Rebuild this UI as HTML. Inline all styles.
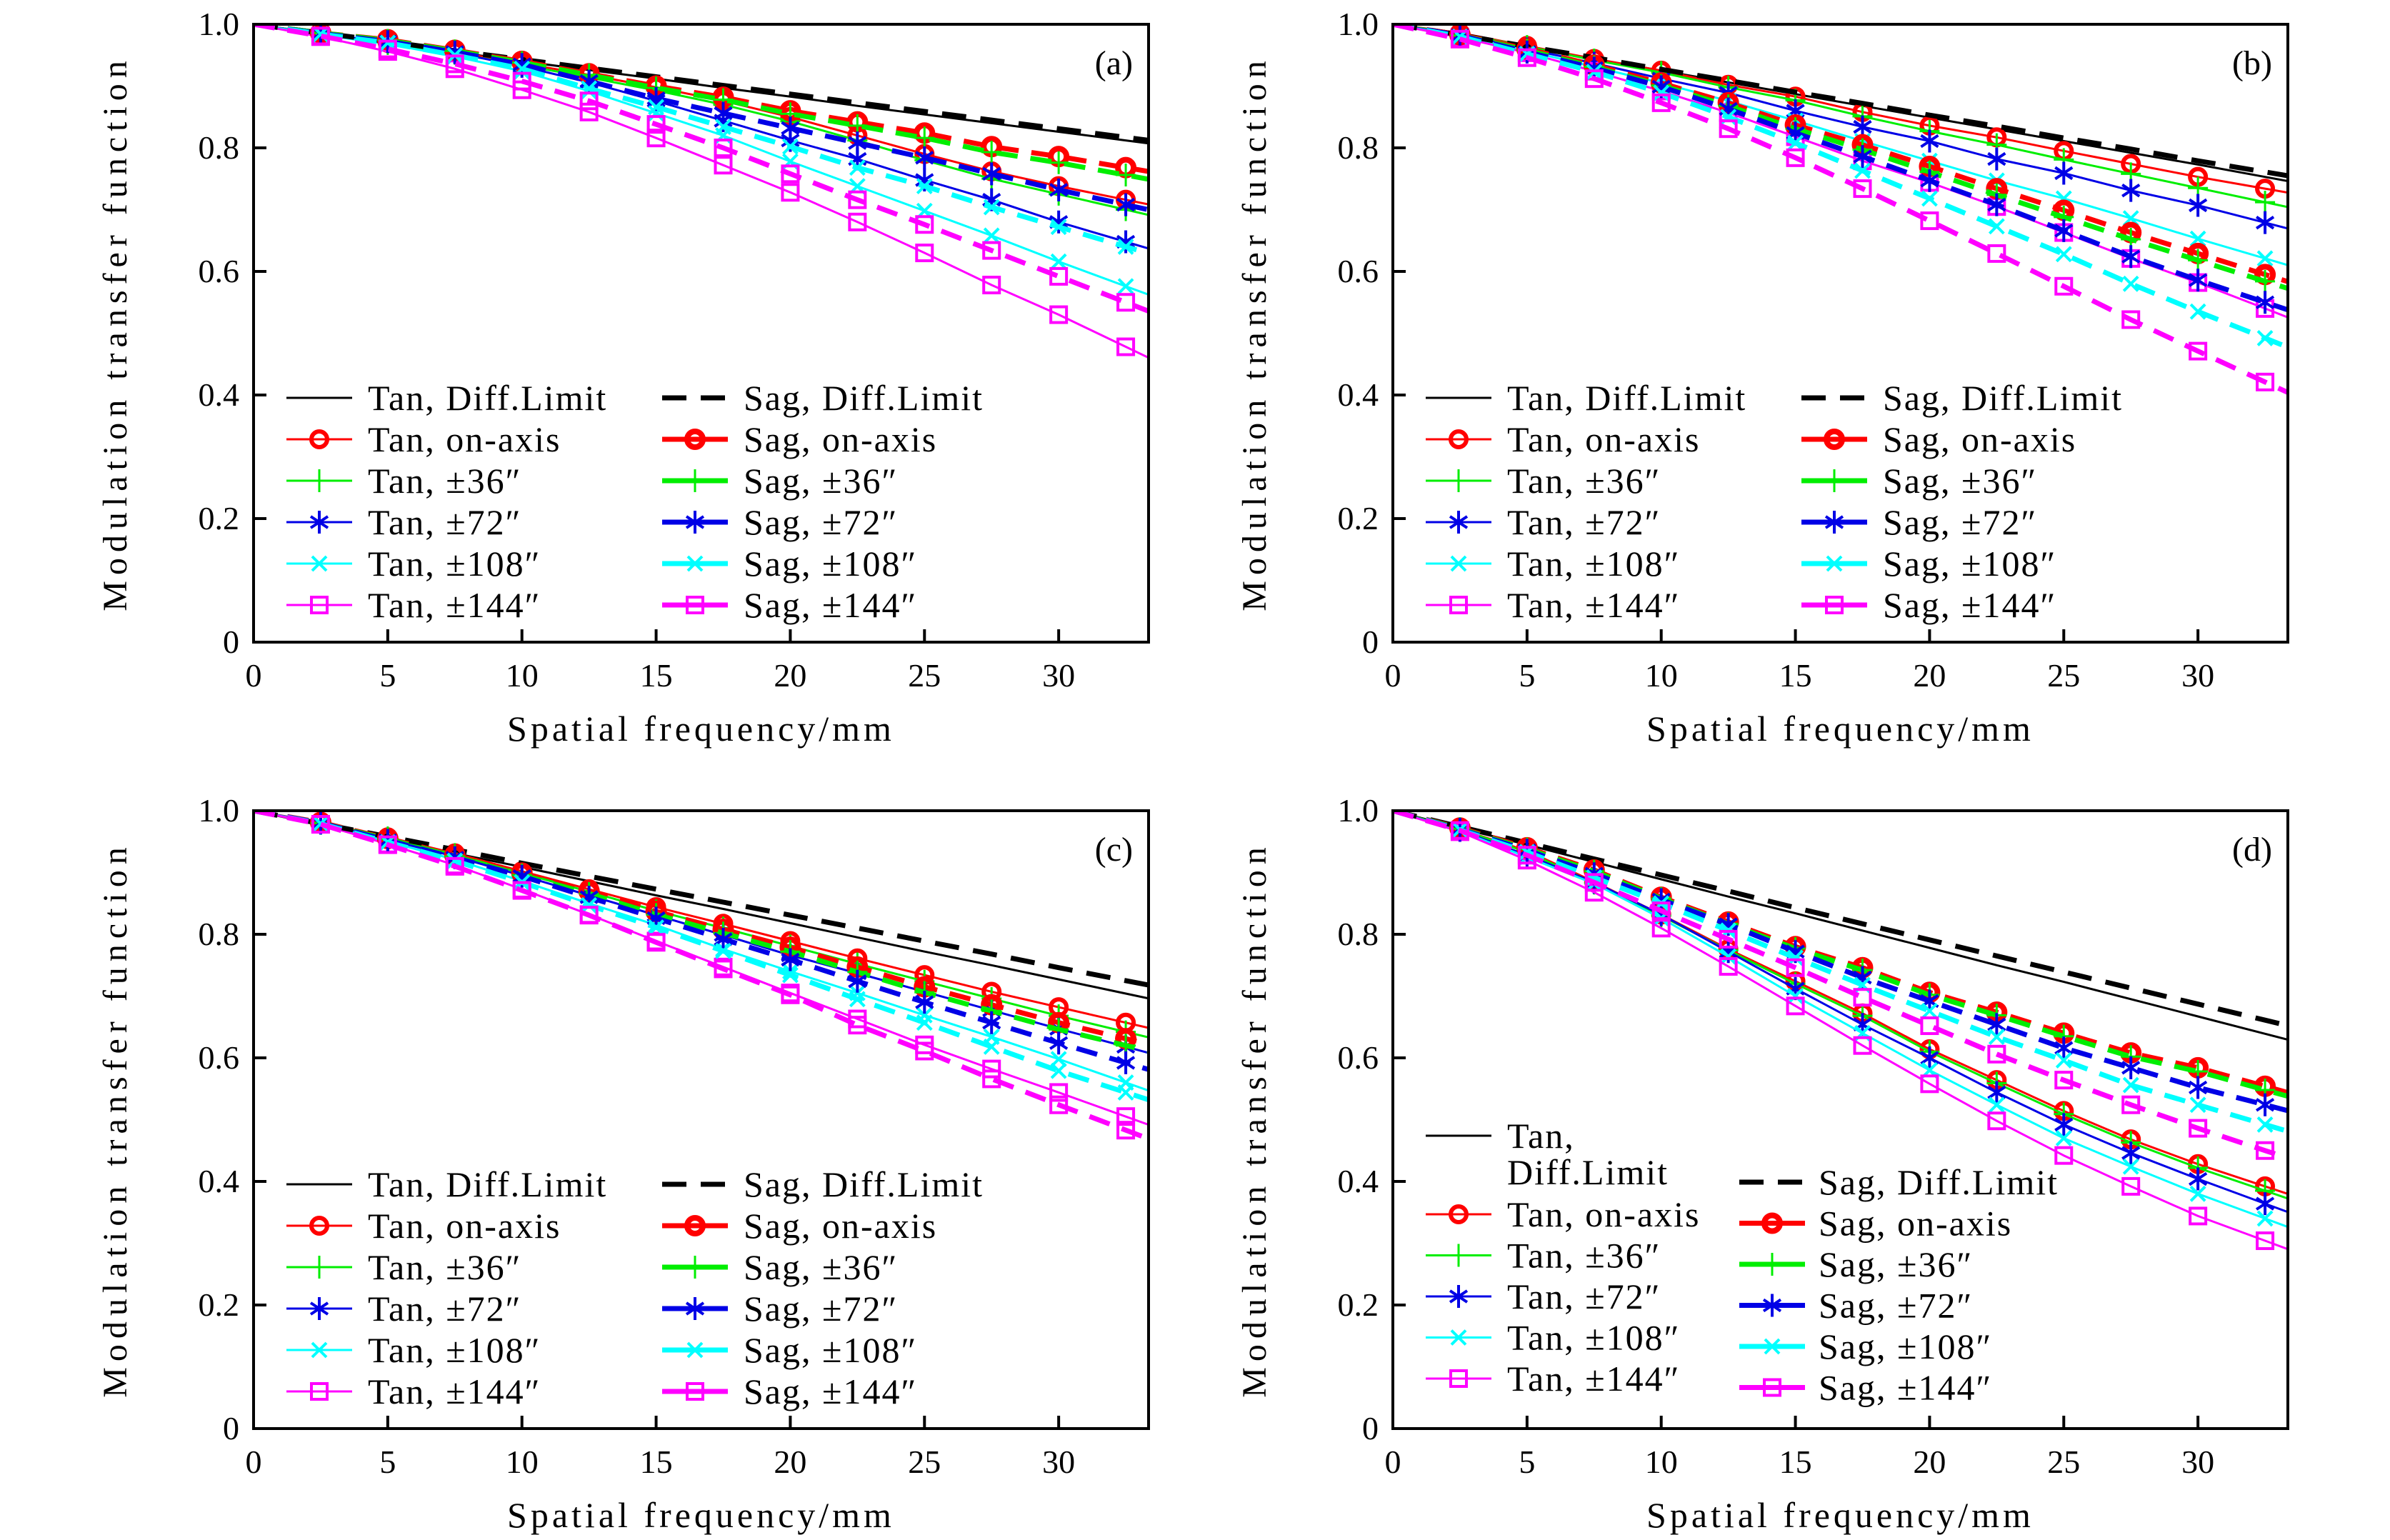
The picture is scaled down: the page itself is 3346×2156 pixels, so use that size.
<!DOCTYPE html>
<html><head><meta charset="utf-8"><style>
html,body{margin:0;padding:0;background:#fff;}
svg{display:block;}
text{font-family:"Liberation Serif",serif;fill:#000;}
</style></head><body>
<svg id="fig" xmlns="http://www.w3.org/2000/svg" width="3346" height="2156" viewBox="0 0 3346 2156"></svg>
<script>
const xs=[0,2.5,5,7.5,10,12.5,15,17.5,20,22.5,25,27.5,30,32.5];
const xTicks=[0,5,10,15,20,25,30];
const yTicks=[0,0.2,0.4,0.6,0.8,1.0];
const yTickLabels=["0","0.2","0.4","0.6","0.8","1.0"];
const panelLabels=["(a)","(b)","(c)","(d)"];
// panel a
const aTanDL=[1,.985,.97,.955,.94,.926,.912,.897,.883,.868,.854,.84,.826,.812];
const aSagDL=[1,.986,.972,.957,.943,.929,.915,.901,.887,.873,.859,.845,.831,.817];
const aTan0=[1,.985,.97,.955,.937,.918,.898,.876,.85,.82,.79,.762,.738,.716];
const aSag0=[1,.986,.975,.958,.94,.92,.90,.882,.86,.842,.824,.802,.786,.768];
const aTan36=[1,.985,.969,.953,.934,.914,.893,.87,.843,.812,.78,.75,.725,.70];
const aSag36=[1,.986,.974,.957,.938,.918,.897,.878,.855,.836,.816,.793,.776,.756];
const aTan72=[1,.984,.972,.954,.932,.906,.876,.844,.812,.782,.748,.716,.68,.648];
const aSag72=[1,.985,.972,.955,.935,.908,.88,.856,.832,.808,.784,.758,.732,.708];
const aTan108=[1,.983,.968,.948,.924,.892,.856,.82,.778,.738,.698,.658,.616,.576];
const aSag108=[1,.984,.97,.95,.928,.896,.866,.834,.802,.768,.738,.704,.672,.64];
const aTan144=[1,.98,.956,.928,.894,.858,.816,.772,.728,.68,.63,.578,.53,.478];
const aSag144=[1,.981,.96,.936,.908,.876,.838,.80,.758,.716,.676,.634,.592,.55];
// panel b
const bTanDL=[1,.982,.963,.944,.925,.906,.887,.868,.849,.83,.811,.792,.773,.753];
const bSagDL=[1,.983,.964,.946,.927,.909,.89,.872,.853,.835,.816,.798,.779,.761];
const bTan0=[1,.986,.965,.944,.925,.902,.883,.858,.836,.817,.795,.774,.753,.734];
const bTan36=[1,.985,.964,.942,.922,.898,.877,.851,.827,.805,.781,.758,.735,.712];
const bTan72=[1,.983,.96,.937,.912,.889,.86,.834,.811,.782,.759,.731,.707,.679];
const bTan108=[1,.981,.957,.931,.905,.876,.844,.811,.779,.747,.718,.686,.653,.621];
const bTan144=[1,.979,.954,.924,.892,.857,.818,.779,.744,.705,.663,.621,.582,.54];
const bSag0=[1,.983,.96,.934,.905,.873,.837,.805,.77,.734,.699,.663,.629,.595];
const bSag36=[1,.982,.958,.931,.901,.868,.831,.797,.761,.724,.688,.652,.618,.584];
const bSag72=[1,.982,.955,.929,.899,.863,.824,.786,.747,.708,.666,.624,.586,.55];
const bSag108=[1,.98,.952,.923,.889,.85,.808,.763,.718,.673,.628,.58,.535,.492];
const bSag144=[1,.976,.946,.912,.873,.831,.784,.734,.682,.629,.576,.522,.471,.421];
// panel c
const cTanDL=[1,.977,.954,.931,.909,.886,.863,.841,.818,.795,.772,.75,.727,.704];
const cSagDL=[1,.979,.958,.937,.915,.894,.873,.852,.831,.81,.789,.768,.746,.725];
const cTan0=[1,.981,.957,.931,.902,.873,.844,.817,.789,.761,.734,.707,.682,.657];
const cTan36=[1,.98,.956,.929,.899,.869,.838,.81,.781,.752,.724,.696,.668,.642];
const cSag0=[1,.981,.955,.928,.899,.87,.837,.808,.779,.747,.715,.686,.657,.631];
const cSag36=[1,.98,.954,.926,.896,.866,.832,.802,.772,.739,.706,.676,.646,.62];
const cTan72=[1,.98,.953,.926,.895,.863,.831,.799,.766,.737,.707,.677,.647,.618];
const cSag72=[1,.98,.952,.924,.894,.86,.826,.792,.759,.724,.69,.657,.624,.592];
const cTan108=[1,.979,.95,.921,.886,.85,.815,.776,.74,.705,.669,.634,.598,.56];
const cSag108=[1,.979,.949,.919,.884,.847,.811,.773,.734,.695,.657,.618,.579,.544];
const cTan144=[1,.978,.946,.912,.873,.832,.789,.747,.705,.663,.621,.582,.544,.505];
const cSag144=[1,.978,.945,.91,.871,.831,.787,.744,.702,.653,.611,.566,.524,.483];
// panel d
const dTanDL=[1,.972,.945,.917,.889,.861,.834,.806,.778,.75,.723,.695,.667,.639];
const dSagDL=[1,.974,.948,.922,.896,.87,.843,.817,.791,.765,.739,.713,.687,.661];
const dTan0=[1,.97,.935,.885,.832,.776,.724,.672,.614,.564,.514,.468,.428,.392];
const dTan36=[1,.97,.933,.883,.83,.774,.72,.668,.61,.559,.509,.463,.422,.385];
const dTan72=[1,.968,.928,.884,.832,.772,.712,.654,.6,.544,.492,.446,.404,.364];
const dTan108=[1,.967,.925,.882,.826,.764,.70,.64,.58,.524,.47,.424,.38,.34];
const dTan144=[1,.966,.92,.868,.81,.748,.684,.62,.558,.498,.442,.392,.344,.304];
const dSag0=[1,.972,.94,.904,.86,.82,.78,.746,.706,.674,.64,.608,.584,.554];
const dSag36=[1,.971,.938,.902,.858,.817,.777,.742,.702,.669,.635,.602,.578,.548];
const dSag72=[1,.97,.936,.898,.856,.816,.772,.73,.692,.654,.616,.584,.552,.524];
const dSag108=[1,.969,.933,.892,.85,.806,.762,.718,.676,.634,.596,.556,.524,.492];
const dSag144=[1,.968,.928,.884,.838,.792,.746,.698,.652,.606,.564,.524,.486,.45];

const NS="http://www.w3.org/2000/svg";
const svg=document.getElementById('fig');
function mk(tag,attrs,parent){const e=document.createElementNS(NS,tag);for(const k in attrs)e.setAttribute(k,attrs[k]);(parent||svg).appendChild(e);return e;}

const XMAX=33.35, PW=1253, PH=865;
const panels=[
 {x:355,y:34,d:[aTanDL,aSagDL,aTan0,aSag0,aTan36,aSag36,aTan72,aSag72,aTan108,aSag108,aTan144,aSag144]},
 {x:1950,y:34,d:[bTanDL,bSagDL,bTan0,bSag0,bTan36,bSag36,bTan72,bSag72,bTan108,bSag108,bTan144,bSag144]},
 {x:355,y:1135,d:[cTanDL,cSagDL,cTan0,cSag0,cTan36,cSag36,cTan72,cSag72,cTan108,cSag108,cTan144,cSag144]},
 {x:1950,y:1135,d:[dTanDL,dSagDL,dTan0,dSag0,dTan36,dSag36,dTan72,dSag72,dTan108,dSag108,dTan144,dSag144]}
];
const styles=[
 {c:'#000',thick:false,m:null,name:'Tan, Diff.Limit'},
 {c:'#000',thick:true,m:null,name:'Sag, Diff.Limit'},
 {c:'#ff0000',thick:false,m:'o',name:'Tan, on-axis'},
 {c:'#ff0000',thick:true,m:'o',name:'Sag, on-axis'},
 {c:'#00ee00',thick:false,m:'+',name:'Tan, \u00b136\u2033'},
 {c:'#00ee00',thick:true,m:'+',name:'Sag, \u00b136\u2033'},
 {c:'#0000e6',thick:false,m:'*',name:'Tan, \u00b172\u2033'},
 {c:'#0000e6',thick:true,m:'*',name:'Sag, \u00b172\u2033'},
 {c:'#00ffff',thick:false,m:'x',name:'Tan, \u00b1108\u2033'},
 {c:'#00ffff',thick:true,m:'x',name:'Sag, \u00b1108\u2033'},
 {c:'#ff00ff',thick:false,m:'s',name:'Tan, \u00b1144\u2033'},
 {c:'#ff00ff',thick:true,m:'s',name:'Sag, \u00b1144\u2033'}
];
const keys=['tan-diff-limit','sag-diff-limit','tan-on-axis','sag-on-axis','tan-36','sag-36','tan-72','sag-72','tan-108','sag-108','tan-144','sag-144'];

function marker(g,type,cx,cy,col,thick){
  if(type==='o'){mk('circle',{cx:cx,cy:cy,r:11,fill:'none',stroke:col,'stroke-width':thick?8:6},g);}
  else if(type==='s'){mk('rect',{x:cx-11,y:cy-11,width:22,height:22,fill:'none',stroke:col,'stroke-width':4},g);}
  else if(type==='+'){mk('path',{d:`M${cx-14},${cy}H${cx+14}M${cx},${cy-16}V${cy+16}`,stroke:col,'stroke-width':3,fill:'none'},g);}
  else if(type==='x'){mk('path',{d:`M${cx-10},${cy-10}L${cx+10},${cy+10}M${cx-10},${cy+10}L${cx+10},${cy-10}`,stroke:col,'stroke-width':4,fill:'none'},g);}
  else if(type==='*'){mk('path',{d:`M${cx},${cy-16}V${cy+16}M${cx-12},${cy-8}L${cx+12},${cy+8}M${cx-12},${cy+8}L${cx+12},${cy-8}`,stroke:col,'stroke-width':4,fill:'none'},g);}
}

panels.forEach((p,pi)=>{
  const sx=v=>p.x+v/XMAX*PW, sy=v=>p.y+PH-v*PH;
  const g=mk('g',{});
  
  
  const cp=mk('clipPath',{id:'clip'+pi},g);
  mk('rect',{x:p.x,y:p.y,width:PW,height:PH},cp);
  const dg=mk('g',{'clip-path':`url(#clip${pi})`},g);
  const order=[0,2,4,6,8,10,1,3,5,7,9,11];
  order.forEach(si=>{
    const st=styles[si], vals=p.d[si];
    const sg=mk('g',{},dg);
    
    
    const n=vals.length;
    const slope=(vals[n-1]-vals[n-2])/(xs[n-1]-xs[n-2]);
    let pts=xs.map((x,i)=>sx(x).toFixed(1)+','+sy(vals[i]).toFixed(1));
    pts.push(sx(XMAX).toFixed(1)+','+sy(vals[n-1]+slope*(XMAX-xs[n-1])).toFixed(1));
    const attrs={points:pts.join(' '),fill:'none',stroke:st.c,'stroke-width':st.thick?7:3,'stroke-linejoin':'round'};
    if(st.thick)attrs['stroke-dasharray']=st.m?'30,18':'34,20';
    mk('polyline',attrs,sg);
    if(st.m) xs.forEach((x,i)=>{ if(i>0) marker(sg,st.m,sx(x),sy(vals[i]),st.c,st.thick); });
  });
  const box=mk('rect',{x:p.x,y:p.y,width:PW,height:PH,fill:'none',stroke:'#000','stroke-width':4},g);
  
  
  yTicks.forEach((v,i)=>{
    mk('line',{x1:p.x,x2:p.x+18,y1:sy(v),y2:sy(v),stroke:'#000','stroke-width':4},g);
    const t=mk('text',{x:p.x-20,y:sy(v)+15,'text-anchor':'end','font-size':46},g);
    t.textContent=yTickLabels[i];
    
    
  });
  xTicks.forEach(v=>{
    mk('line',{x1:sx(v),x2:sx(v),y1:p.y+PH,y2:p.y+PH-18,stroke:'#000','stroke-width':4},g);
    const t=mk('text',{x:sx(v),y:p.y+PH+62,'text-anchor':'middle','font-size':46},g);
    t.textContent=String(v);
    
    
  });
  const xt=mk('text',{x:p.x+PW/2,y:p.y+PH+138,'text-anchor':'middle','font-size':50,'letter-spacing':'5'},g);
  xt.textContent='Spatial frequency/mm';
  
  
  const yx=p.x-178, yy=p.y+PH/2;
  const yt=mk('text',{x:yx,y:yy,'text-anchor':'middle','font-size':48,'letter-spacing':'8',transform:`rotate(-90 ${yx} ${yy})`},g);
  yt.textContent='Modulation transfer function';
  
  
  const pl=mk('text',{x:p.x+PW-22,y:p.y+70,'text-anchor':'end','font-size':48},g);
  pl.textContent=panelLabels[pi];
  
  
  const lg=mk('g',{},g);
  
  
  let entries=[];
  if(pi<3){
    for(let r=0;r<6;r++){
      entries.push({si:2*r,lx:p.x+46,ty:p.y+523+r*58,tx:p.x+160});
      entries.push({si:2*r+1,lx:p.x+572,ty:p.y+523+r*58,tx:p.x+686});
    }
  } else {
    entries.push({si:0,lx:p.x+46,ty:p.y+455,tx:p.x+160,wrap:true});
    for(let r=1;r<6;r++) entries.push({si:2*r,lx:p.x+46,ty:p.y+565+(r-1)*57.5,tx:p.x+160});
    for(let r=0;r<6;r++) entries.push({si:2*r+1,lx:p.x+485,ty:p.y+520+r*57.5,tx:p.x+596});
  }
  entries.forEach(e=>{
    const st=styles[e.si];
    const eg=mk('g',{},lg);
    
    
    const la={x1:e.lx,x2:e.lx+92,y1:e.ty,y2:e.ty,stroke:st.c,'stroke-width':st.thick?7:3};
    if(st.thick && !st.m) la['stroke-dasharray']='34,20';
    mk('line',la,eg);
    if(st.m) marker(eg,st.m,e.lx+46,e.ty,st.c,st.thick);
    if(e.wrap){
      const t1=mk('text',{x:e.tx,y:e.ty+17,'font-size':50,'letter-spacing':'2'},eg); t1.textContent='Tan,';
      const t2=mk('text',{x:e.tx,y:e.ty+68,'font-size':50,'letter-spacing':'2'},eg); t2.textContent='Diff.Limit';
    } else {
      const t=mk('text',{x:e.tx,y:e.ty+17,'font-size':50,'letter-spacing':'2'},eg); t.textContent=st.name;
    }
  });
});
</script>
</body></html>
